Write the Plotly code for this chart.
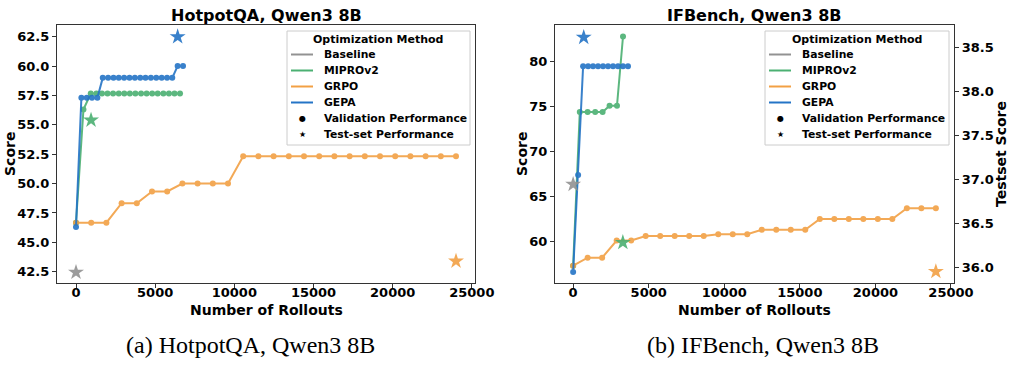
import plotly.graph_objects as go

# ---------------- data: HotpotQA, Qwen3 8B ----------------
hq_grpo_x = [0, 960, 1920, 2880, 3840, 4800, 5760, 6720, 7680, 8640, 9600, 10560, 11520,
             12480, 13440, 14400, 15360, 16320, 17280, 18240, 19200, 20160, 21120, 22080, 23040, 24000]
hq_grpo_y = [46.67, 46.67, 46.67, 48.33, 48.33, 49.33, 49.33, 50.0, 50.0, 50.0, 50.0, 52.33, 52.33,
             52.33, 52.33, 52.33, 52.33, 52.33, 52.33, 52.33, 52.33, 52.33, 52.33, 52.33, 52.33, 52.33]
hq_gepa_x = [0, 340, 680, 1010, 1350, 1690, 2030, 2370, 2700, 3040, 3380, 3720, 4060, 4390,
             4730, 5070, 5410, 5750, 6080, 6420, 6760]
hq_gepa_y = [46.3, 57.3, 57.3, 57.3, 57.3, 59.0, 59.0, 59.0, 59.0, 59.0, 59.0, 59.0, 59.0, 59.0,
             59.0, 59.0, 59.0, 59.0, 59.0, 60.0, 60.0]
hq_mipro_x = [0, 470, 930, 1290, 1640, 1990, 2340, 2700, 3050, 3400, 3750, 4110, 4460, 4810,
              5160, 5520, 5870, 6220, 6570]
hq_mipro_y = [46.67, 56.3, 57.67, 57.67, 57.67, 57.67, 57.67, 57.67, 57.67, 57.67, 57.67, 57.67,
              57.67, 57.67, 57.67, 57.67, 57.67, 57.67, 57.67]
# test-set stars
hq_test_methods = ["Baseline", "MIPROv2", "GRPO", "GEPA"]
hq_test_x = [0, 950, 24000, 6420]
hq_test_y = [42.45, 55.4, 43.4, 62.5]

# ---------------- data: IFBench, Qwen3 8B ----------------
if_grpo_x = [0, 960, 1920, 2880, 3840, 4800, 5760, 6720, 7680, 8640, 9600, 10560, 11520,
             12480, 13440, 14400, 15360, 16320, 17280, 18240, 19200, 20160, 21120, 22080, 23040, 24000]
if_grpo_y = [57.3, 58.2, 58.2, 60.1, 60.1, 60.6, 60.6, 60.6, 60.6, 60.6, 60.8, 60.8, 60.8,
             61.3, 61.3, 61.3, 61.3, 62.5, 62.5, 62.5, 62.5, 62.5, 62.5, 63.7, 63.7, 63.7]
if_gepa_x = [0, 330, 660, 990, 1320, 1650, 1980, 2310, 2640, 2970, 3300, 3630]
if_gepa_y = [56.6, 67.4, 79.5, 79.5, 79.5, 79.5, 79.5, 79.5, 79.5, 79.5, 79.5, 79.5]
if_mipro_x = [0, 440, 960, 1460, 1950, 2410, 2900, 3300]
if_mipro_y = [57.3, 74.4, 74.4, 74.4, 74.4, 75.1, 75.1, 82.8]
if_test_methods = ["Baseline", "MIPROv2", "GRPO", "GEPA"]
if_test_x = [0, 3290, 24000, 700]
if_test_y = [36.94, 36.28, 35.95, 38.61]

x_ticks = [0, 5000, 10000, 15000, 20000, 25000]
x_ticklabels = ["0", "5000", "10000", "15000", "20000", "25000"]
hq_y_ticks = [42.5, 45.0, 47.5, 50.0, 52.5, 55.0, 57.5, 60.0, 62.5]
hq_y_ticklabels = ["42.5", "45.0", "47.5", "50.0", "52.5", "55.0", "57.5", "60.0", "62.5"]
if_y_ticks = [60, 65, 70, 75, 80]
if_y_ticklabels = ["60", "65", "70", "75", "80"]
if_y2_ticks = [36.0, 36.5, 37.0, 37.5, 38.0, 38.5]
if_y2_ticklabels = ["36.0", "36.5", "37.0", "37.5", "38.0", "38.5"]

legend_methods = ["Baseline", "MIPROv2", "GRPO", "GEPA"]
legend_markers = [("●", "Validation Performance"), ("★", "Test-set Performance")]

COLORS = {"Baseline": "#929292", "MIPROv2": "#4bb072", "GRPO": "#f2a044", "GEPA": "#2474c6"}

W, H = 1011, 367
FONT = "DejaVu Sans"


def px_x(p):
    return p / W


def px_y(p):
    return 1 - p / H


fig = go.Figure()


def add_panel(xa, ya, ya_test, series, test_methods, test_x, test_y):
    for name, xs, ys in series:
        fig.add_trace(go.Scatter(
            x=xs, y=ys, mode="lines+markers", xaxis=xa, yaxis=ya, showlegend=False,
            line=dict(color=COLORS[name], width=2), marker=dict(color=COLORS[name], size=6),
            opacity=0.9, name=name))
    for name, tx, ty in zip(test_methods, test_x, test_y):
        fig.add_trace(go.Scatter(
            x=[tx], y=[ty], mode="markers", xaxis=xa, yaxis=ya_test, showlegend=False,
            marker=dict(color=COLORS[name], size=12, symbol="star", line=dict(width=0)),
            opacity=0.9, name=name + " test"))


add_panel("x", "y", "y",
          [("MIPROv2", hq_mipro_x, hq_mipro_y), ("GRPO", hq_grpo_x, hq_grpo_y), ("GEPA", hq_gepa_x, hq_gepa_y)],
          hq_test_methods, hq_test_x, hq_test_y)
add_panel("x2", "y2", "y3",
          [("MIPROv2", if_mipro_x, if_mipro_y), ("GRPO", if_grpo_x, if_grpo_y), ("GEPA", if_gepa_x, if_gepa_y)],
          if_test_methods, if_test_x, if_test_y)

tickfont = dict(family=FONT, size=13, weight="bold", color="black")
axis_common = dict(showgrid=False, zeroline=False, showline=True, linecolor="#333333", linewidth=1.3,
                   ticks="outside", ticklen=4, tickcolor="#333333", tickfont=tickfont, automargin=False)
x_common = dict(axis_common, ticklabelstandoff=-7)

y_dom = [px_y(283), px_y(25)]

fig.update_layout(
    width=W, height=H, margin=dict(l=0, r=0, t=0, b=0, pad=0, autoexpand=False),
    paper_bgcolor="white", plot_bgcolor="white", showlegend=False,
    xaxis=dict(domain=[px_x(57), px_x(475)], range=[-1200, 25200], tickvals=x_ticks,
               ticktext=x_ticklabels, anchor="y", mirror=True, **x_common),
    yaxis=dict(domain=y_dom, range=[41.54, 63.5], tickvals=hq_y_ticks,
               ticktext=hq_y_ticklabels, anchor="x", mirror=True, **axis_common),
    xaxis2=dict(domain=[px_x(555), px_x(954)], range=[-1200, 25200], tickvals=x_ticks,
                ticktext=x_ticklabels, anchor="y2", mirror=True, **x_common),
    yaxis2=dict(domain=y_dom, range=[55.38, 84.08], tickvals=if_y_ticks,
                ticktext=if_y_ticklabels, anchor="x2", mirror=True, **axis_common),
    yaxis3=dict(range=[35.82, 38.75], tickvals=if_y2_ticks, ticktext=if_y2_ticklabels,
                overlaying="y2", side="right", anchor="x2", **axis_common),
)

title_font = dict(family=FONT, size=16, weight="bold", color="black")
label_font = dict(family=FONT, size=14, weight="bold", color="black")
caption_font = dict(family="Liberation Serif", size=24, color="black")
leg_font = dict(family=FONT, size=10.8, weight="bold", color="black")
leg_title_font = dict(family=FONT, size=11, weight="bold", color="black")

annots = [
    dict(text="HotpotQA, Qwen3 8B", x=px_x(266), y=px_y(15), font=title_font, xanchor="center"),
    dict(text="IFBench, Qwen3 8B", x=px_x(754.5), y=px_y(15), font=title_font, xanchor="center"),
    dict(text="Number of Rollouts", x=px_x(266), y=px_y(310), font=label_font, xanchor="center"),
    dict(text="Number of Rollouts", x=px_x(754.5), y=px_y(310), font=label_font, xanchor="center"),
    dict(text="Score", x=px_x(10), y=px_y(154), font=label_font, textangle=-90, xanchor="center"),
    dict(text="Score", x=px_x(522), y=px_y(154), font=label_font, textangle=-90, xanchor="center"),
    dict(text="Testset Score", x=px_x(1001), y=px_y(154), font=label_font, textangle=-90, xanchor="center"),
    dict(text="(a) HotpotQA, Qwen3 8B", x=px_x(250), y=px_y(345), font=caption_font, xanchor="center"),
    dict(text="(b) IFBench, Qwen3 8B", x=px_x(763), y=px_y(345), font=caption_font, xanchor="center"),
]

# manual legends (one per panel), matplotlib-like compact layout
shapes = []
for box_l, box_r in [(287, 470), (765, 949)]:
    shapes.append(dict(type="rect", xref="paper", yref="paper",
                       x0=px_x(box_l), x1=px_x(box_r), y0=px_y(145), y1=px_y(31),
                       line=dict(color="#cccccc", width=1), fillcolor="rgba(255,255,255,0.85)",
                       layer="above"))
    annots.append(dict(text="Optimization Method", x=px_x((box_l + box_r) / 2), y=px_y(39.5),
                       font=leg_title_font, xanchor="center"))
    row_y = 54.5
    for name in legend_methods:
        shapes.append(dict(type="line", xref="paper", yref="paper",
                           x0=px_x(box_l + 4), x1=px_x(box_l + 26), y0=px_y(row_y), y1=px_y(row_y),
                           line=dict(color=COLORS[name], width=2), layer="above"))
        annots.append(dict(text=name, x=px_x(box_l + 35), y=px_y(row_y), font=leg_font, xanchor="left"))
        row_y += 16
    for sym, label in legend_markers:
        annots.append(dict(text=sym, x=px_x(box_l + 15), y=px_y(row_y),
                           font=dict(family=FONT, size=8, color="black"), xanchor="center"))
        annots.append(dict(text=label, x=px_x(box_l + 35), y=px_y(row_y), font=leg_font, xanchor="left"))
        row_y += 16

fig.update_layout(shapes=shapes)
for a in annots:
    fig.add_annotation(xref="paper", yref="paper", showarrow=False, yanchor="middle", **a)

fig.write_html("out.html", config={"responsive": False})
